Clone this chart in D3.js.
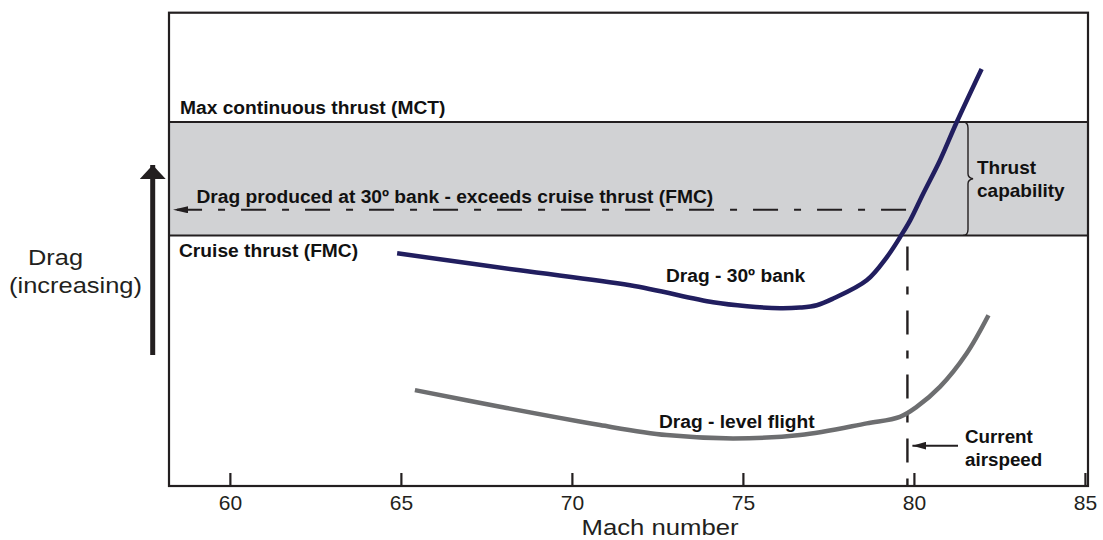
<!DOCTYPE html>
<html><head><meta charset="utf-8">
<script src="https://cdn.jsdelivr.net/npm/d3@7"></script>
<style>
html,body{margin:0;padding:0;background:#fff;}
svg{display:block;font-family:"Liberation Sans",Arial,Helvetica,sans-serif;}
</style></head>
<body>
<svg id="chart" width="1103" height="540"></svg>
<script>
// ---- data ----
const machTicks = [60, 65, 70, 75, 80, 85];
const bankMach = [64.89, 68.48, 71.70, 74.13, 75.12, 76.09, 76.67, 77.16, 77.64, 78.62, 79.21, 79.64, 79.89, 80.27, 80.76, 81.25, 81.98];
const bankDrag = [49.16, 45.57, 42.41, 38.82, 37.97, 37.55, 37.70, 38.19, 39.60, 43.46, 48.38, 53.10, 56.12, 61.75, 68.78, 76.86, 88.12];
const levelMach = [65.41, 67.90, 70.82, 72.77, 74.71, 76.67, 78.62, 79.59, 80.08, 80.76, 81.54, 82.18];
const levelDrag = [20.25, 16.73, 12.87, 10.76, 10.06, 10.76, 13.23, 14.62, 16.73, 20.95, 28.00, 36.08];
const mctThrust = 76.9;
const cruiseThrust = 52.95;
const bankDragLevel = 58.37;
const currentMach = 79.81;
const xDomain = [58.22, 85.09];
const yDomain = [0, 100];

// ---- drawing ----
const svg = d3.select("#chart");
const ink = "#231f20";
const L = 169, R = 1088, T = 12.7, B = 486;
const x = d3.scaleLinear().domain(xDomain).range([L, R]);
const y = d3.scaleLinear().domain(yDomain).range([B, T]);

const defs = svg.append("defs");
function marker(id, w, h) {
  defs.append("marker").attr("id", id).attr("viewBox", `0 0 ${w} ${h}`)
    .attr("refX", w).attr("refY", h / 2).attr("markerWidth", w).attr("markerHeight", h)
    .attr("markerUnits", "userSpaceOnUse").attr("orient", "auto")
    .append("path").attr("d", `M0,0L${w},${h/2}L0,${h}Z`).attr("fill", ink);
}
marker("arrSmall", 15, 7);
marker("arrCur", 14, 8);
marker("arrBig", 14, 26);

// thrust band
svg.append("rect").attr("x", x(xDomain[0])).attr("y", y(mctThrust))
  .attr("width", x(xDomain[1]) - x(xDomain[0])).attr("height", y(cruiseThrust) - y(mctThrust))
  .attr("fill", "#d1d2d4");
[mctThrust, cruiseThrust].forEach(v => {
  svg.append("line").attr("x1", L).attr("x2", R).attr("y1", y(v)).attr("y2", y(v))
    .attr("stroke", ink).attr("stroke-width", 2);
});

// dash-dot horizontal
svg.append("line").attr("x1", x(79.77)).attr("x2", L + 4).attr("y1", y(bankDragLevel)).attr("y2", y(bankDragLevel))
  .attr("stroke", ink).attr("stroke-width", 2).attr("stroke-dasharray", "25,16,7,16")
  .attr("marker-end", "url(#arrSmall)");
// dash-dot vertical
svg.append("line").attr("x1", x(currentMach)).attr("x2", x(currentMach)).attr("y1", y(50.6)).attr("y2", B)
  .attr("stroke", ink).attr("stroke-width", 2.4).attr("stroke-dasharray", "24,16,8,16");

// curves
const line = d3.line().x(d => x(d[0])).y(d => y(d[1])).curve(d3.curveCatmullRom.alpha(0.5));
svg.append("path").attr("d", line(levelMach.map((m, i) => [m, levelDrag[i]])))
  .attr("fill", "none").attr("stroke", "#6d6e70").attr("stroke-width", 4.5);
svg.append("path").attr("d", line(bankMach.map((m, i) => [m, bankDrag[i]])))
  .attr("fill", "none").attr("stroke", "#211e5f").attr("stroke-width", 4.5);

// frame
svg.append("rect").attr("x", L).attr("y", T).attr("width", R - L).attr("height", B - T)
  .attr("fill", "none").attr("stroke", ink).attr("stroke-width", 2.2);

// x axis
const axis = d3.axisBottom(x).tickValues(machTicks).tickSize(-13).tickPadding(12).tickFormat(d3.format("d"));
const ax = svg.append("g").attr("transform", `translate(0,${B})`).call(axis);
ax.select(".domain").remove();
ax.selectAll(".tick line").attr("stroke", ink).attr("stroke-width", 2.2);
ax.selectAll(".tick text").attr("fill", ink).attr("font-size", 21).attr("font-family", "Liberation Sans, Arial, sans-serif")
  .attr("y", 24).attr("dy", 0);

svg.append("text").attr("x", 581.5).attr("y", 535).attr("font-size", 22.5).attr("fill", ink)
  .attr("textLength", 157).attr("lengthAdjust", "spacingAndGlyphs").text("Mach number");

// y label and arrow
svg.append("text").attr("x", 28).attr("y", 265).attr("font-size", 21.5).attr("fill", ink)
  .attr("textLength", 55).attr("lengthAdjust", "spacingAndGlyphs").text("Drag");
svg.append("text").attr("x", 9).attr("y", 293).attr("font-size", 21.5).attr("fill", ink)
  .attr("textLength", 133).attr("lengthAdjust", "spacingAndGlyphs").text("(increasing)");
svg.append("line").attr("x1", 152.7).attr("x2", 152.7).attr("y1", 355).attr("y2", 165)
  .attr("stroke", ink).attr("stroke-width", 5).attr("marker-end", "url(#arrBig)");

// bold labels
const bold = (t, xx, yy, fs) => svg.append("text").attr("x", xx).attr("y", yy).attr("font-size", fs)
  .attr("font-weight", "bold").attr("fill", "#111").text(t);
bold("Max continuous thrust (MCT)", 180, 113.5, 19.2);
bold("Drag produced at 30º bank - exceeds cruise thrust (FMC)", 196.5, 203, 19.2);
bold("Cruise thrust (FMC)", 179, 257, 19.2);
bold("Drag - 30º bank", 666, 281.5, 19.2);
bold("Drag - level flight", 659, 428, 19.2);
bold("Thrust", 977, 173.5, 19);
bold("capability", 977, 197, 19);
bold("Current", 965, 443, 18.8);
bold("airspeed", 965, 465.5, 18.8);

// brace
const bx = 968, yt = y(mctThrust), yb = y(cruiseThrust), ym = (yt + yb) / 2;
svg.append("path")
  .attr("d", `M${bx-5},${yt} Q${bx},${yt} ${bx},${yt+6} L${bx},${ym-5} Q${bx},${ym-1} ${bx+5},${ym} Q${bx},${ym+1} ${bx},${ym+5} L${bx},${yb-6} Q${bx},${yb} ${bx-5},${yb}`)
  .attr("fill", "none").attr("stroke", ink).attr("stroke-width", 1.4);

// current airspeed arrow
svg.append("line").attr("x1", 958).attr("x2", x(currentMach) + 5).attr("y1", 445.7).attr("y2", 445.7)
  .attr("stroke", ink).attr("stroke-width", 2).attr("marker-end", "url(#arrCur)");
</script>
</body></html>
